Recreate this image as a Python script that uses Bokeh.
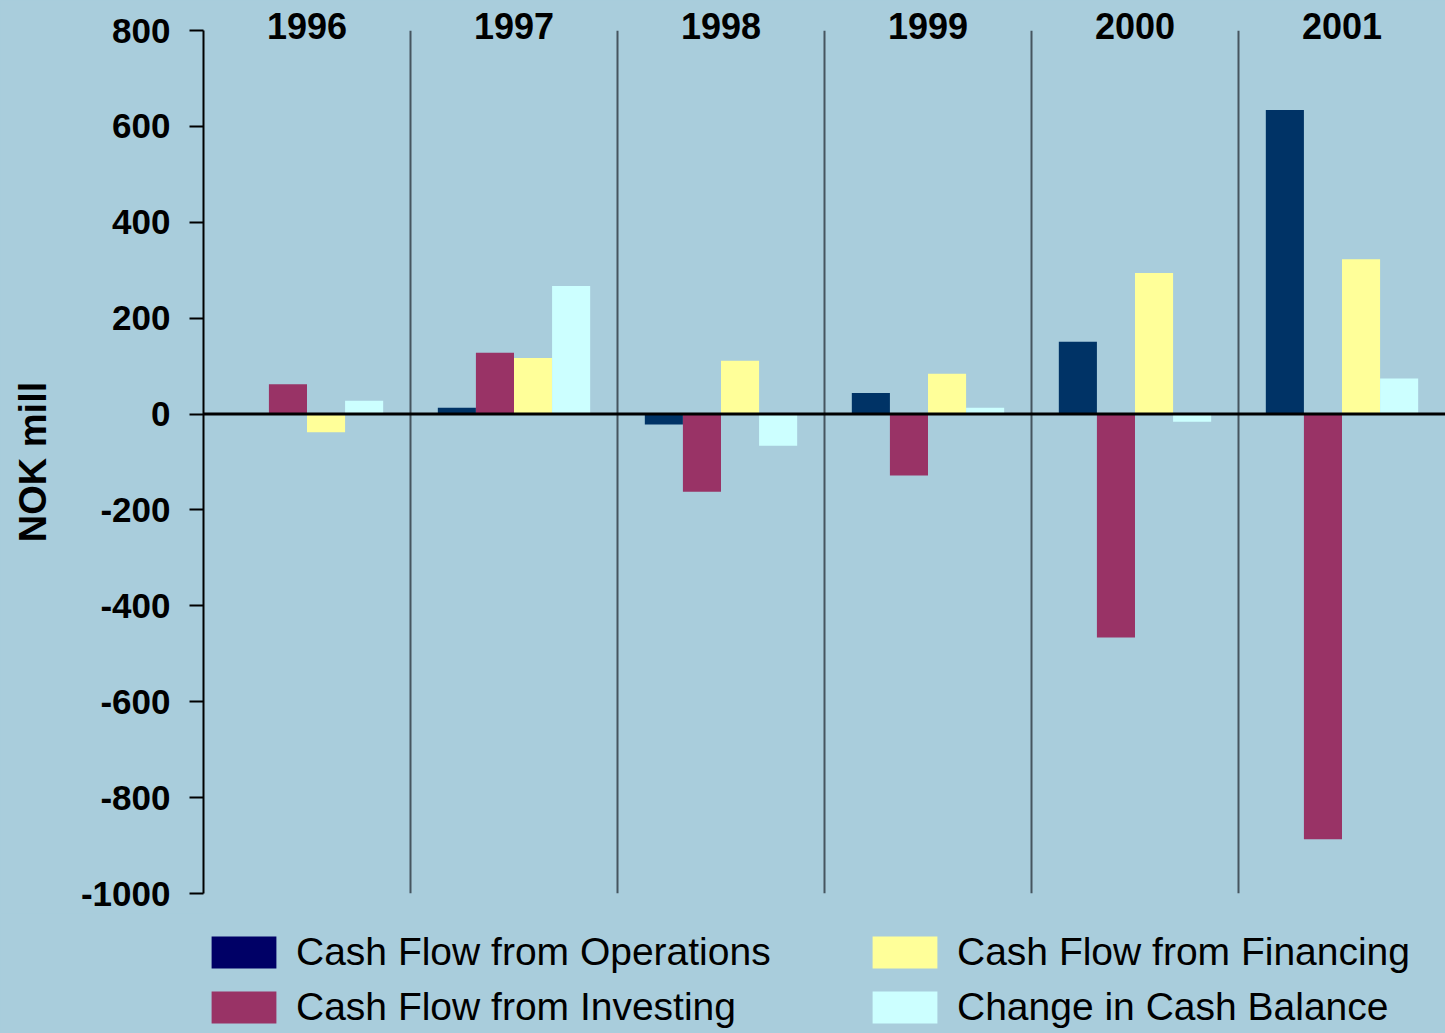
from bokeh.plotting import figure
from bokeh.layouts import column
from bokeh.models import (ColumnDataSource, Range1d, FactorRange, FixedTicker, Span,
                          Legend, LegendItem, CategoricalAxis)
from bokeh.transform import dodge
from bokeh.embed import file_html
from bokeh.resources import INLINE

years = ["1996", "1997", "1998", "1999", "2000", "2001"]
operations = [2, 13, -22, 44, 151, 634]
investing = [62, 128, -162, -128, -466, -887]
financing = [-38, 117, 111, 84, 294, 323]
change_cash = [28, 267, -66, 13, -16, 74]
y_ticks = [-1000, -800, -600, -400, -200, 0, 200, 400, 600, 800]
y_min, y_max = -1000, 800

series_names = ["Cash Flow from Operations", "Cash Flow from Investing",
                "Cash Flow from Financing", "Change in Cash Balance"]
bar_colors = ["#003366", "#993366", "#FFFF99", "#CCFFFF"]
legend_colors = ["#000066", "#993366", "#FFFF99", "#CCFFFF"]

BG = "#A9CDDC"
SANS = "Liberation Sans"

W = 1445
H_MAIN, H_LEG = 913, 120
LEFT = 203

src = ColumnDataSource(dict(years=years, ops=operations, inv=investing,
                            fin=financing, chg=change_cash))
sep_src = ColumnDataSource(dict(years=years[:-1], lo=[y_min] * (len(years) - 1),
                                hi=[y_max] * (len(years) - 1)))

p = figure(width=W, height=H_MAIN, output_backend="svg", toolbar_location=None,
           x_range=FactorRange(*years, range_padding=0),
           y_range=Range1d(y_min, y_max), x_axis_location=None,
           min_border_left=LEFT, min_border_right=0, min_border_top=30,
           min_border_bottom=20, outline_line_color=None)
p.background_fill_color = None
p.border_fill_color = BG
p.grid.visible = False

offsets = [-0.276, -0.092, 0.092, 0.276]
cols = ["ops", "inv", "fin", "chg"]
for off, col, color in zip(offsets, cols, bar_colors):
    p.vbar(x=dodge("years", off, range=p.x_range), top=col, bottom=0, width=0.184,
           source=src, fill_color=color, line_color=None)

# category separators
p.segment(x0=dodge("years", 0.5, range=p.x_range), x1=dodge("years", 0.5, range=p.x_range),
          y0="lo", y1="hi", source=sep_src, line_color="#46555f", line_width=2)
p.add_layout(Span(location=0, dimension="width", line_color="black", line_width=3))

# year labels along the top
xa = CategoricalAxis(axis_line_color=None, major_tick_line_color=None,
                     minor_tick_line_color=None, major_label_standoff=-14,
                     major_label_text_font=SANS, major_label_text_font_style="bold",
                     major_label_text_font_size="36px", major_label_text_color="black")
p.add_layout(xa, "above")

# y axis
ya = p.yaxis[0]
ya.ticker = FixedTicker(ticks=y_ticks)
ya.major_label_overrides = {t: str(t) for t in y_ticks}
ya.minor_tick_line_color = None
ya.major_tick_out = 14
ya.major_tick_in = 0
ya.major_tick_line_width = 2
ya.axis_line_width = 2
ya.axis_line_color = "black"
ya.major_tick_line_color = "black"
ya.major_label_text_font = SANS
ya.major_label_text_font_style = "bold"
ya.major_label_text_font_size = "35px"
ya.major_label_text_color = "black"
ya.major_label_standoff = 19
ya.axis_label = "NOK mill"
ya.axis_label_text_font = SANS
ya.axis_label_text_font_style = "bold"
ya.axis_label_text_font_size = "38px"
ya.axis_label_text_color = "black"
ya.axis_label_standoff = 24

# legend panel
lg = figure(width=W, height=H_LEG, output_backend="svg", toolbar_location=None,
            x_range=Range1d(0, 1), y_range=Range1d(0, 1),
            x_axis_location=None, y_axis_location=None,
            min_border_left=LEFT, min_border_right=0, min_border_top=0,
            min_border_bottom=0, outline_line_color=None)
lg.background_fill_color = None
lg.border_fill_color = BG
lg.grid.visible = False

swatches = []
for c in legend_colors:
    r = lg.vbar(x=[0.5], top=[0.5], bottom=[0.5], width=0.0, fill_color=c,
                line_color=None)
    swatches.append(r)

def make_legend(idx, x):
    items = [LegendItem(label=series_names[i], renderers=[swatches[i]]) for i in idx]
    return Legend(items=items, location=(x, 4), orientation="vertical",
                  background_fill_alpha=0, border_line_color=None,
                  label_text_font=SANS, label_text_font_size="39px",
                  label_text_color="black", glyph_width=81, glyph_height=40,
                  label_standoff=12, spacing=10, padding=0, margin=0,
                  label_height=45)

lg.add_layout(make_legend([0, 1], 211 - 8 - LEFT), "center")
lg.add_layout(make_legend([2, 3], 872 - 8 - LEFT), "center")

layout = column(p, lg, spacing=0, styles={"background-color": BG})
open("out.html", "w").write(file_html(layout, INLINE))
